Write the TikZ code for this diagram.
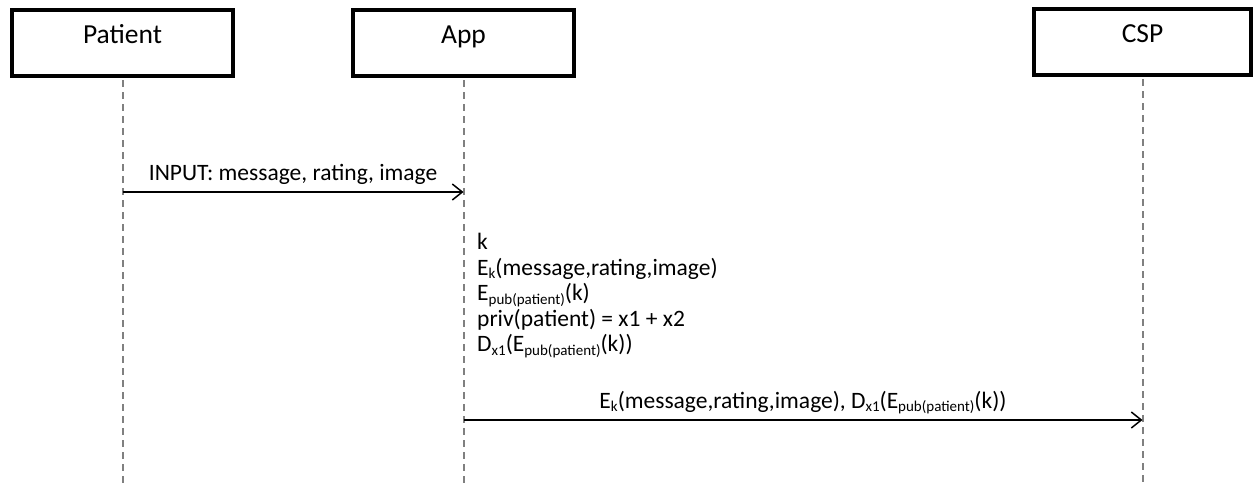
\documentclass[tikz,border=0pt]{standalone}
\usepackage{fontspec}
\setmainfont{Carlito}
\usetikzlibrary{arrows.meta,positioning}

\newcommand{\sub}[1]{\raisebox{-0.35ex}{\fontsize{15}{15}\selectfont #1}}

\begin{document}
\begin{tikzpicture}[
    x=1pt, y=-1pt,
    actor/.style={rectangle, draw=black, line width=4pt, fill=white, inner sep=0pt, minimum width=221pt, text height=33pt, text depth=33pt, font=\fontsize{27.5}{32}\selectfont},
    lifeline/.style={draw=gray, line width=2pt, dash pattern=on 7pt off 5pt},
    msg/.style={line width=1.5pt, -{Straight Barb[length=10pt, width=16pt]}},
    lbl/.style={font=\fontsize{23.5}{25.5}\selectfont, inner sep=0pt}
]
    \useasboundingbox (0,0) rectangle (1255,483);
    \coordinate (bot) at (0,483);

    % Lifeline heads
    \node[actor] (pat) at (122.5,43) {Patient};
    \node[actor] (app) at (463.5,43) {App};
    \node[actor, minimum width=217pt] (csp) at (1142.5,42) {CSP};

    % Lifelines
    \draw[lifeline] ([yshift=-2pt]pat.south) -- (pat.south |- bot);
    \draw[lifeline] ([yshift=-2pt]app.south) -- (app.south |- bot);
    \draw[lifeline] ([yshift=-2pt]csp.south) -- (csp.south |- bot);

    % Messages
    \coordinate (m1) at (0,192);
    \coordinate (m2) at (0,420);
    \draw[msg] (pat |- m1) -- (app |- m1)
        node[lbl, midway, anchor=base, yshift=12pt] (in) {INPUT: message, rating, image};
    \draw[msg] (app |- m2) -- (csp |- m2)
        node[lbl, midway, anchor=base, yshift=12pt] (out) {E\sub{k}(message,rating,image), D\sub{x1}(E\sub{pub(patient)}(k))};

    % Computation on the App side
    \node[lbl, align=left, anchor=north west] (calc) at (477,233) {k\\
        E\sub{k}(message,rating,image)\\
        E\sub{pub(patient)}(k)\\
        priv(patient) = x1 + x2\\
        D\sub{x1}(E\sub{pub(patient)}(k))};
\end{tikzpicture}
\end{document}
